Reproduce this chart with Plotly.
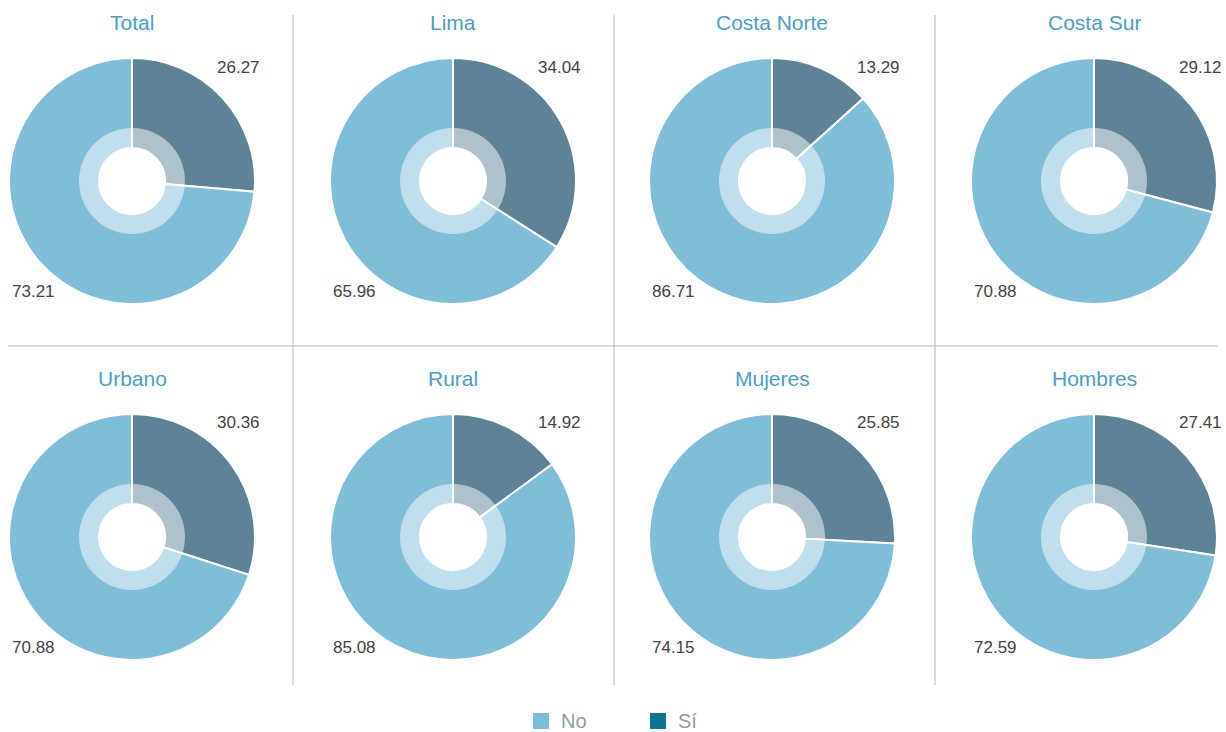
import plotly.graph_objects as go

categories = ["Total", "Lima", "Costa Norte", "Costa Sur", "Urbano", "Rural", "Mujeres", "Hombres"]
si_values = [26.27, 34.04, 13.29, 29.12, 30.36, 14.92, 25.85, 27.41]
no_values = [73.21, 65.96, 86.71, 70.88, 70.88, 85.08, 74.15, 72.59]
series_names = ["Sí", "No"]

W, H = 1226, 732
col_centers = [132, 453, 772, 1094]
row_centers = [181, 537]
R_OUT = 123
R_MID = 53
R_HOLE = 33

outer_colors = ["#5F8396", "#80BDD9"]
legend_colors = {"No": "#80BDD9", "Sí": "#0E7496"}
title_color = "#4A9FC5"
label_color = "#444444"
font_family = "Liberation Sans, Arial, sans-serif"

fig = go.Figure()
annotations = []
shapes = []

def px(x):
    return x / W

def py(y):
    return (H - y) / H

def dom(cx, cy, r):
    return dict(x=[px(cx - r), px(cx + r)], y=[py(cy + r), py(cy - r)])

for i, cat in enumerate(categories):
    cx = col_centers[i % 4]
    cy = row_centers[i // 4]
    vals = [si_values[i], no_values[i]]
    fig.add_trace(go.Pie(
        labels=series_names, values=vals, sort=False, direction="clockwise", rotation=0,
        hole=R_HOLE / R_OUT, domain=dom(cx, cy, R_OUT), textinfo="none", hoverinfo="label+value",
        marker=dict(colors=outer_colors, line=dict(color="white", width=2)), showlegend=False,
    ))
    # lighter inner ring: translucent white overlay
    shapes.append(dict(type="circle", xref="paper", yref="paper",
                       x0=px(cx - R_MID), x1=px(cx + R_MID), y0=py(cy + R_MID), y1=py(cy - R_MID),
                       fillcolor="rgba(255,255,255,0.5)", line=dict(width=0), layer="above"))
    annotations.append(dict(x=px(cx), y=py(cy - 159), xref="paper", yref="paper",
                            text=cat, showarrow=False, xanchor="center", yanchor="middle",
                            font=dict(size=21, color=title_color, family=font_family)))
    annotations.append(dict(x=px(cx + 106), y=py(cy - 114), xref="paper", yref="paper",
                            text=f"{si_values[i]:.2f}", showarrow=False, xanchor="center", yanchor="middle",
                            font=dict(size=17, color=label_color, family=font_family)))
    annotations.append(dict(x=px(cx - 99), y=py(cy + 110), xref="paper", yref="paper",
                            text=f"{no_values[i]:.2f}", showarrow=False, xanchor="center", yanchor="middle",
                            font=dict(size=17, color=label_color, family=font_family)))

# grid separators
for x in [293, 614, 935]:
    shapes.append(dict(type="line", xref="paper", yref="paper", x0=px(x), x1=px(x),
                       y0=py(15), y1=py(685), line=dict(color="#B5B5B5", width=1)))
shapes.append(dict(type="line", xref="paper", yref="paper", x0=px(8), x1=px(1218),
                   y0=py(346), y1=py(346), line=dict(color="#B5B5B5", width=1)))

# legend
for name, x0 in [("No", 533), ("Sí", 650)]:
    shapes.append(dict(type="rect", xref="paper", yref="paper", x0=px(x0), x1=px(x0 + 16),
                       y0=py(729), y1=py(713), line=dict(width=0),
                       fillcolor=legend_colors[name]))
    annotations.append(dict(x=px(x0 + 26), y=py(721), xref="paper", yref="paper",
                            text=name, showarrow=False, xanchor="left", yanchor="middle",
                            font=dict(size=20, color="#8E9AA3", family=font_family)))

fig.update_layout(width=W, height=H, margin=dict(l=0, r=0, t=0, b=0),
                  paper_bgcolor="white", plot_bgcolor="white",
                  annotations=annotations, shapes=shapes, showlegend=False)

fig.write_html("out.html", config={"displayModeBar": False},
               post_script="document.body.style.margin='0';document.body.style.overflow='hidden';")
